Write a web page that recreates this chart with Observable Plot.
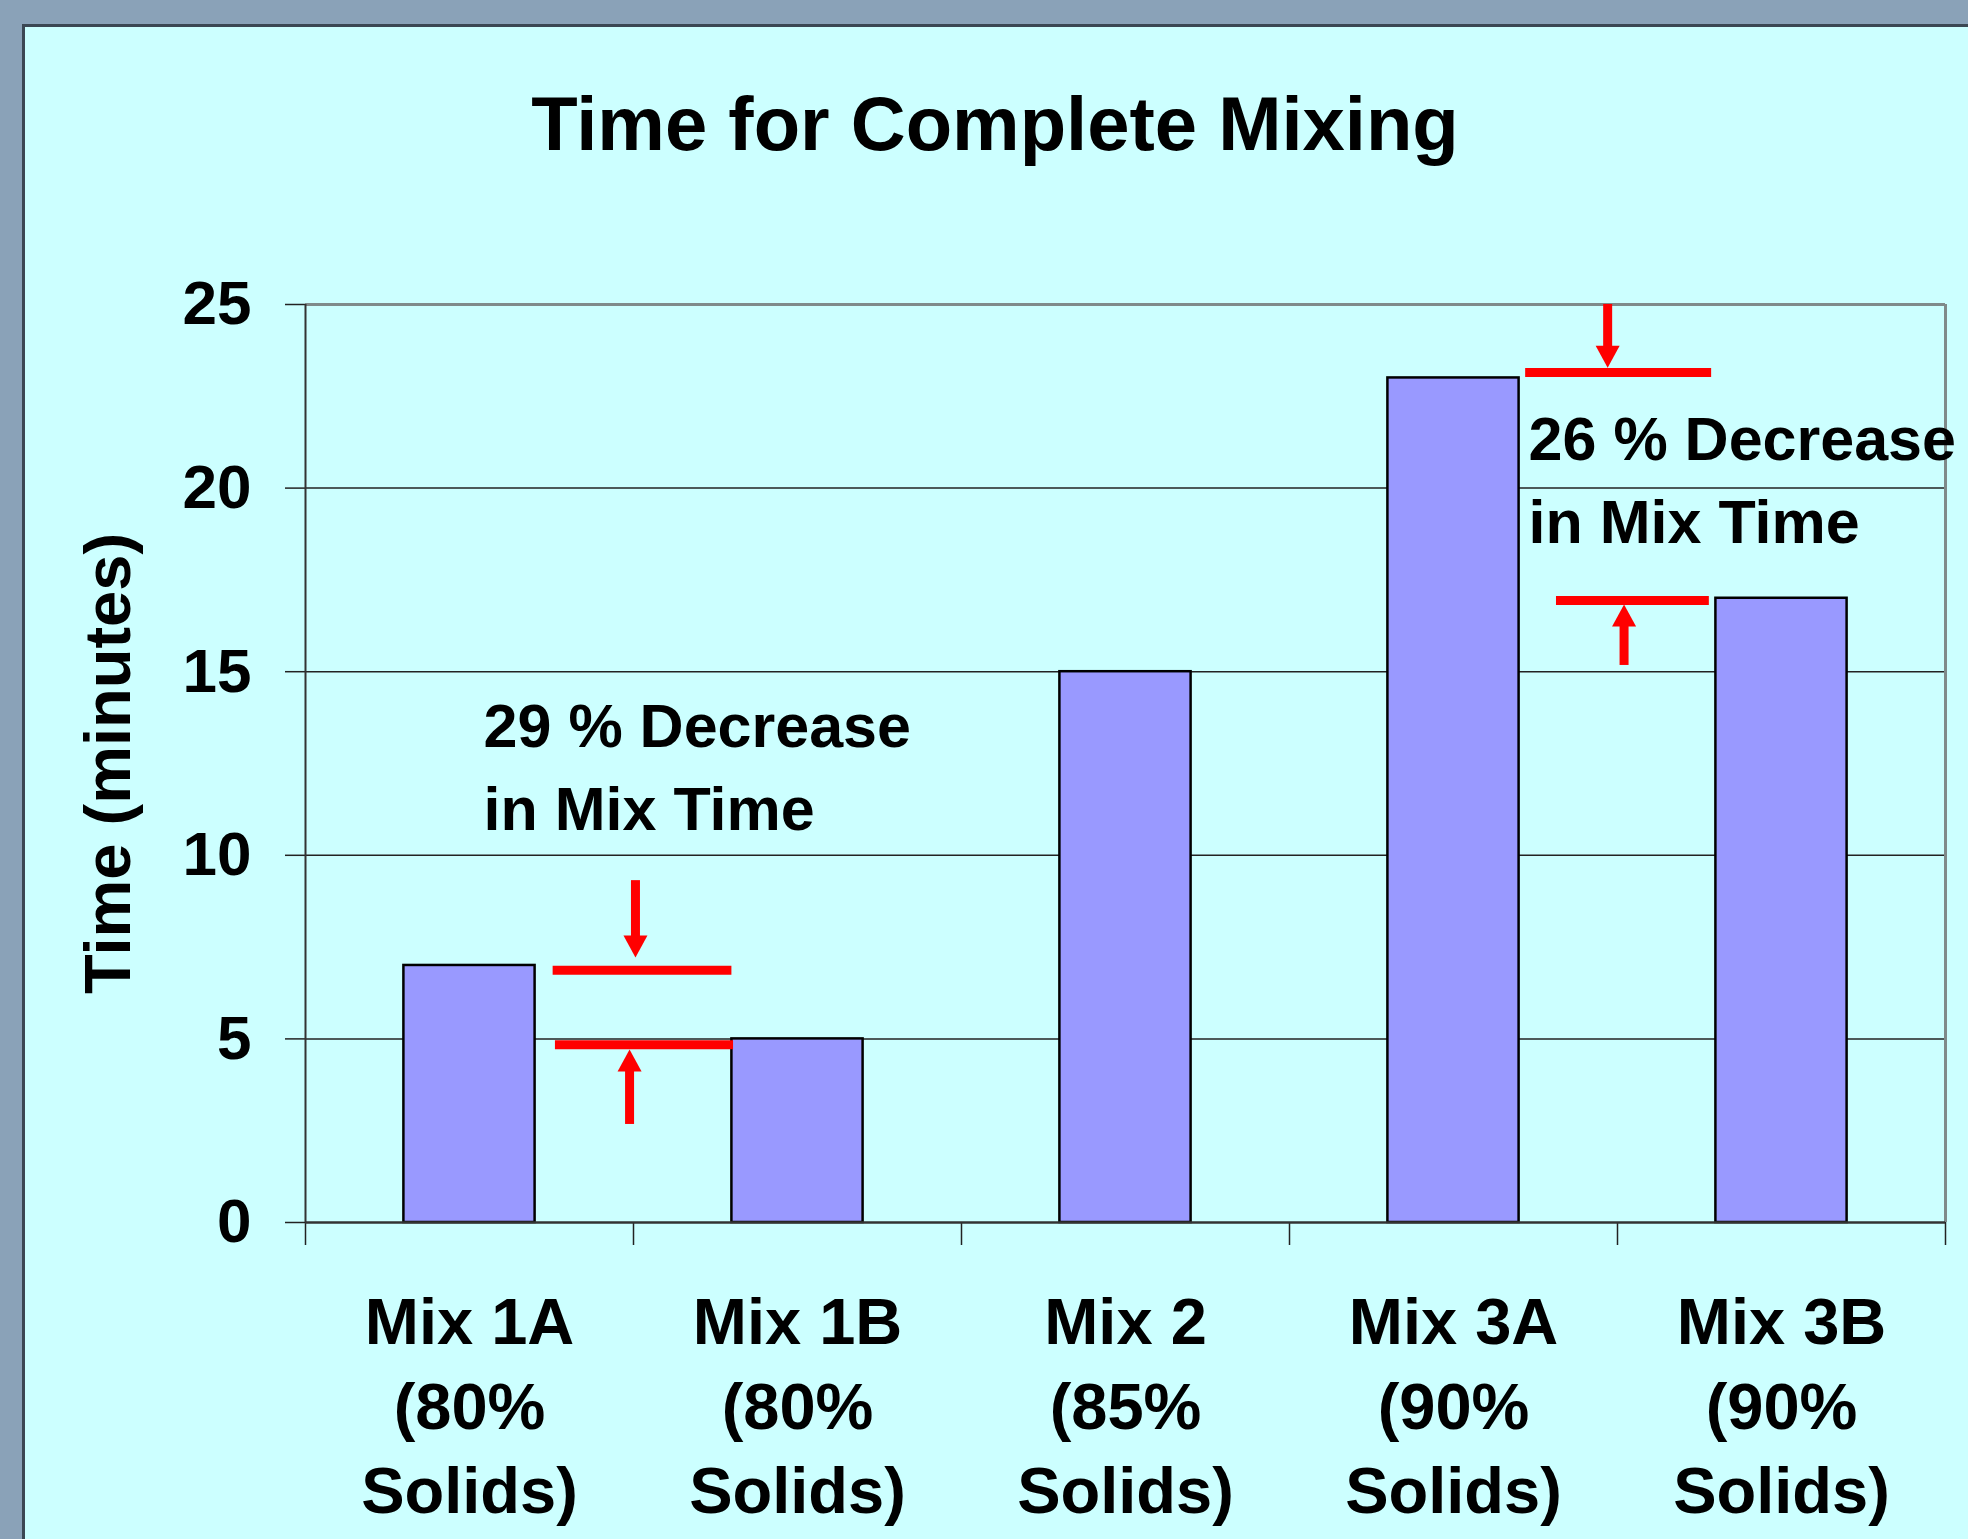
<!DOCTYPE html>
<html>
<head>
<meta charset="utf-8">
<script src="https://cdn.jsdelivr.net/npm/d3@7"></script>
<script src="https://cdn.jsdelivr.net/npm/@observablehq/plot@0.6"></script>
<style>
  html, body { margin: 0; padding: 0; }
  body { width: 1968px; height: 1539px; background: #8aa2b8; position: relative; overflow: hidden;
         font-family: "Liberation Sans", Arial, Helvetica, sans-serif; }
  #panel { position: absolute; left: 22px; top: 24px; width: 1946px; height: 1515px; box-sizing: border-box;
           background: #ccffff; border-top: 3px solid #3b4753; border-left: 3px solid #3b4753; }
  #title { position: absolute; left: 22px; width: 1946px; top: 86px; text-align: center;
           font-size: 76px; line-height: 76px; font-weight: bold; color: #000; }
  #chart { position: absolute; left: 22px; top: 204px; }
</style>
</head>
<body>
<div id="panel"></div>
<div id="title">Time for Complete Mixing</div>
<div id="chart"></div>
<script>
// ---- data ----
const categories = ["Mix 1A\n(80%\nSolids)", "Mix 1B\n(80%\nSolids)", "Mix 2\n(85%\nSolids)", "Mix 3A\n(90%\nSolids)", "Mix 3B\n(90%\nSolids)"];
const times = [7, 5, 15, 23, 17];
const yTicks = [0, 5, 10, 15, 20, 25];
const yLabel = "Time (minutes)";

// annotations (x in category units, y in minutes)
const noteText = ["29 % Decrease\nin Mix Time", "26 % Decrease\nin Mix Time"];
const noteX = [0.543, 3.729];
const noteY = [14.55, 22.37];
const markerX1 = [0.755, 0.762, 3.72, 3.814];
const markerX2 = [1.3, 1.305, 4.287, 4.28];
const markerY = [6.87, 4.84, 23.15, 16.94];
const arrowX = [1.006, 0.988, 3.97, 4.02];
const arrowFrom = [9.31, 2.67, 25, 15.17];
const arrowTip = [7.22, 4.71, 23.28, 16.83];
const arrowDir = ["down", "up", "down", "up"];

// ---- build tables ----
const bars = categories.map((c, i) => ({i, label: c, time: times[i]}));
const markers = markerY.map((y, i) => ({x1: markerX1[i], x2: markerX2[i], y}));
const arrows = arrowX.map((x, i) => ({x, from: arrowFrom[i], tip: arrowTip[i], dir: arrowDir[i],
  shaftEnd: arrowTip[i] + (arrowDir[i] === "down" ? 0.4 : -0.4)}));
const notes = noteText.map((t, i) => ({t, x: noteX[i], y: noteY[i]}));
const boundaries = d3.range(categories.length + 1);
const centers = categories.map((c, i) => i + 0.5);

const RED = "#ff0000";
const FONT = "'Liberation Sans', Arial, Helvetica, sans-serif";

const chart = Plot.plot({
  width: 1946,
  height: 1335,
  marginLeft: 283,
  marginRight: 23,
  marginTop: 100,
  marginBottom: 317,
  x: {type: "linear", domain: [0, categories.length], axis: null},
  y: {domain: [0, 25], axis: null},
  style: {background: "transparent", fontFamily: FONT, color: "#000", overflow: "visible"},
  marks: [
    // gridlines
    Plot.ruleY(yTicks.slice(1, -1), {stroke: "#222", strokeWidth: 1.5}),
    // y axis ticks & labels
    Plot.axisY({ticks: yTicks, tickSize: 20, tickPadding: 34, fontSize: 62, fontWeight: "bold",
      stroke: "#222", strokeWidth: 1.5,
      label: null}),
    Plot.axisY({ticks: [], tickSize: 0, fontSize: 65, fontWeight: "bold",
      label: yLabel, labelAnchor: "center", labelOffset: 222, labelArrow: false}),
    // x boundary ticks
    Plot.axisX({ticks: boundaries, tickSize: 23, tickFormat: () => "", label: null, stroke: "#222", strokeWidth: 1.5}),
    // x category labels
    Plot.axisX({ticks: centers, tickSize: 0, tickPadding: 62, tickFormat: (d) => categories[Math.floor(d)],
      fontSize: 65, fontWeight: "bold", lineHeight: 1.3, label: null}),
    // bars
    Plot.rectY(bars, {x1: (d) => d.i + 0.3, x2: (d) => d.i + 0.7, y1: 0, y2: "time",
      fill: "#9999ff", stroke: "#000", strokeWidth: 2.5}),
    // frame: top and right grey border, left & bottom axis lines
    Plot.ruleY([25], {stroke: "#7f8a8a", strokeWidth: 3}),
    Plot.ruleX([categories.length], {stroke: "#7f8a8a", strokeWidth: 3}),
    Plot.ruleX([0], {stroke: "#333", strokeWidth: 2}),
    Plot.ruleY([0], {stroke: "#333", strokeWidth: 2.5}),
    // red markers
    Plot.ruleY(markers, {x1: "x1", x2: "x2", y: "y", stroke: RED, strokeWidth: 9}),
    Plot.ruleX(arrows, {x: "x", y1: "from", y2: "shaftEnd", stroke: RED, strokeWidth: 9}),
    Plot.vector(arrows, {x: "x", y: "tip", shape: "spike", length: 22, r: 12, anchor: "end",
      rotate: (d) => d.dir === "down" ? 180 : 0, fill: RED, stroke: "none"}),
    // annotation text
    Plot.text(notes, {x: "x", y: "y", text: "t", textAnchor: "start", lineAnchor: "top",
      fontSize: 61, fontWeight: "bold", lineHeight: 1.36, fill: "#000"})
  ]
});
document.getElementById("chart").append(chart);
</script>
</body>
</html>
